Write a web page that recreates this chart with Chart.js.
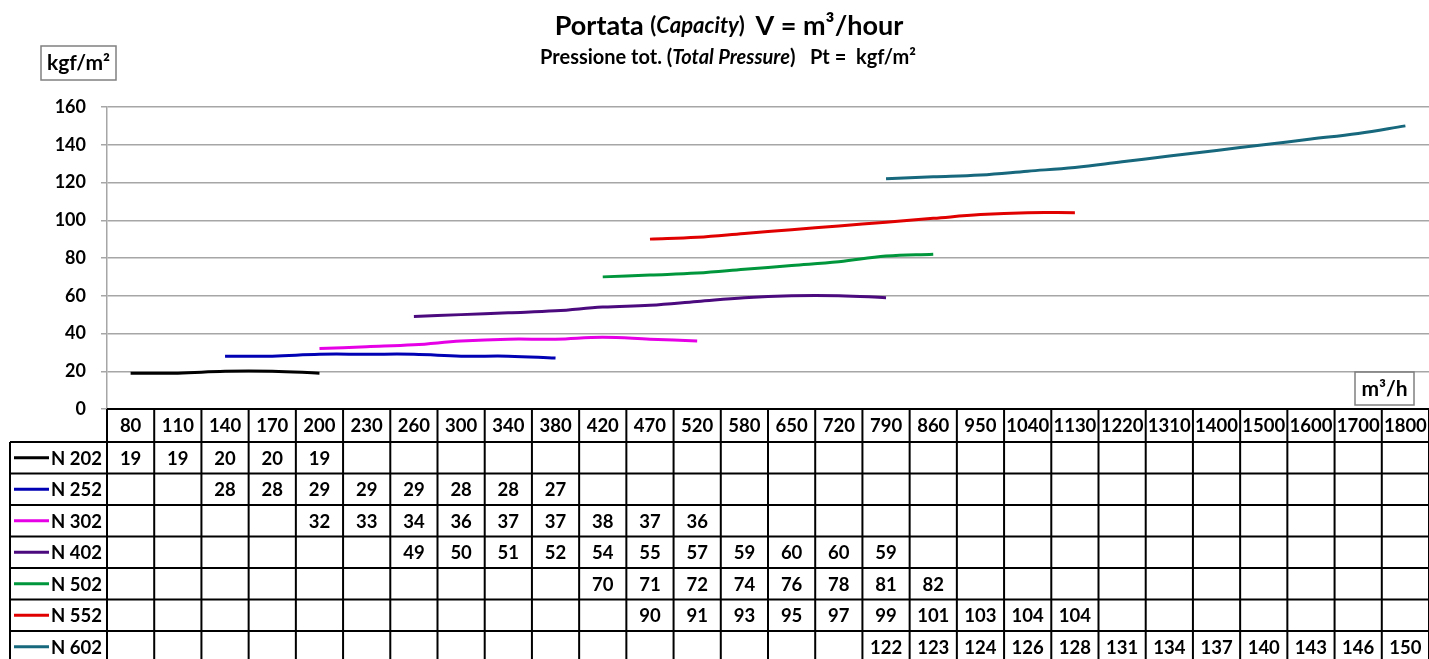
<!DOCTYPE html>
<html>
<head>
<meta charset="utf-8">
<script src="https://cdn.jsdelivr.net/npm/chart.js@4.4.0/dist/chart.umd.min.js"></script>
<style>
  html, body { margin:0; padding:0; background:#fff; }
  #wrap { width:1429px; height:659px; position:relative; }
</style>
</head>
<body>
<div id="wrap"><canvas id="chart"></canvas></div>
<script>
// dati
const _ = null;
const capacity = ['80','110','140','170','200','230','260','300','340','380','420','470','520','580','650','720','790','860','950','1040','1130','1220','1310','1400','1500','1600','1700','1800'];
const yTicks = [0,20,40,60,80,100,120,140,160];
const n202 = [19,19,20,20,19,_,_,_,_,_,_,_,_,_,_,_,_,_,_,_,_,_,_,_,_,_,_,_];
const n252 = [_,_,28,28,29,29,29,28,28,27,_,_,_,_,_,_,_,_,_,_,_,_,_,_,_,_,_,_];
const n302 = [_,_,_,_,32,33,34,36,37,37,38,37,36,_,_,_,_,_,_,_,_,_,_,_,_,_,_,_];
const n402 = [_,_,_,_,_,_,49,50,51,52,54,55,57,59,60,60,59,_,_,_,_,_,_,_,_,_,_,_];
const n502 = [_,_,_,_,_,_,_,_,_,_,70,71,72,74,76,78,81,82,_,_,_,_,_,_,_,_,_,_];
const n552 = [_,_,_,_,_,_,_,_,_,_,_,90,91,93,95,97,99,101,103,104,104,_,_,_,_,_,_,_];
const n602 = [_,_,_,_,_,_,_,_,_,_,_,_,_,_,_,_,122,123,124,126,128,131,134,137,140,143,146,150];
const seriesNames = ['N 202','N 252','N 302','N 402','N 502','N 552','N 602'];
const seriesData = [n202,n252,n302,n402,n502,n552,n602];
const seriesColors = ['#000000','#0000b4','#e600e6','#4b0a7d','#00963c','#e00000','#17687c'];

const FONT = 'Lato, "Open Sans", sans-serif';
const PLOT_TOP = 107, PLOT_BOTTOM = 409, PLOT_LEFT = 107;
const HEAD_H = 33, ROW_H = 31.5, TABLE_LEFT = 10;

function drawRuns(ctx, runs, cx, y) {
  let total = 0;
  runs.forEach(r => { ctx.font = r.f; total += ctx.measureText(r.t).width; });
  let x = cx - total / 2;
  ctx.textAlign = 'left';
  runs.forEach(r => { ctx.font = r.f; ctx.fillText(r.t, x, y); x += ctx.measureText(r.t).width; });
}

const tablePlugin = {
  id: 'tablePlugin',
  afterDraw(chart) {
    const ctx = chart.ctx;
    const xs = chart.scales.x;
    const area = chart.chartArea;
    const colW = (area.right - area.left) / capacity.length;
    ctx.save();
    ctx.fillStyle = '#000';
    ctx.textBaseline = 'middle';

    // titoli
    drawRuns(ctx, [
      {t:'Portata ', f:'bold 27px ' + FONT},
      {t:'(', f:'bold 22px ' + FONT},
      {t:'Capacity', f:'italic bold 22px ' + FONT},
      {t:')  ', f:'bold 22px ' + FONT},
      {t:'V = m³/hour', f:'bold 27px ' + FONT}
    ], 729, 26);
    drawRuns(ctx, [
      {t:'Pressione tot. (', f:'bold 20px ' + FONT},
      {t:'Total Pressure', f:'italic bold 20px ' + FONT},
      {t:')   Pt =  kgf/m²', f:'bold 20px ' + FONT}
    ], 728, 58);

    // riquadri unita
    ctx.strokeStyle = '#808080';
    ctx.lineWidth = 1.5;
    ctx.strokeRect(41, 46, 75, 34);
    ctx.strokeRect(1355, 372, 59, 33);
    ctx.font = 'bold 21px ' + FONT;
    ctx.textAlign = 'center';
    ctx.fillText('kgf/m²', 78.5, 63);
    ctx.fillText('m³/h', 1384.5, 389);

    // tabella dati
    const tTop = area.bottom;
    const rowsTop = tTop + HEAD_H;
    const tBottom = rowsTop + ROW_H * seriesNames.length;
    ctx.strokeStyle = '#000';
    ctx.lineWidth = 2;
    ctx.beginPath();
    ctx.moveTo(area.left, tTop); ctx.lineTo(area.right, tTop);
    for (let r = 0; r <= seriesNames.length; r++) {
      const y = rowsTop + r * ROW_H;
      ctx.moveTo(TABLE_LEFT, y); ctx.lineTo(area.right, y);
    }
    ctx.moveTo(TABLE_LEFT, rowsTop); ctx.lineTo(TABLE_LEFT, tBottom);
    for (let i = 0; i <= capacity.length; i++) {
      const x = area.left + i * colW;
      ctx.moveTo(x, tTop); ctx.lineTo(x, tBottom);
    }
    ctx.stroke();

    ctx.font = 'bold 18.5px ' + FONT;
    ctx.textAlign = 'center';
    capacity.forEach((c, i) => ctx.fillText(c, xs.getPixelForValue(i), tTop + HEAD_H / 2 + 1));
    seriesData.forEach((arr, r) => {
      const yc = rowsTop + r * ROW_H + ROW_H / 2 + 1;
      arr.forEach((v, i) => { if (v !== null) ctx.fillText(String(v), xs.getPixelForValue(i), yc); });
    });
    // legenda nella prima colonna
    seriesNames.forEach((n, r) => {
      const yc = rowsTop + r * ROW_H + ROW_H / 2;
      ctx.strokeStyle = seriesColors[r];
      ctx.lineWidth = 3;
      ctx.beginPath(); ctx.moveTo(14, yc); ctx.lineTo(49, yc); ctx.stroke();
      ctx.textAlign = 'left';
      ctx.fillText(n, 51, yc + 1);
    });
    ctx.restore();
  }
};

new Chart(document.getElementById('chart'), {
  type: 'line',
  data: {
    labels: capacity,
    datasets: seriesNames.map((n, k) => ({
      label: n, data: seriesData[k], borderColor: seriesColors[k], backgroundColor: seriesColors[k],
      borderWidth: 3, pointRadius: 0, tension: 0.4, spanGaps: false
    }))
  },
  options: {
    responsive: true, maintainAspectRatio: false, animation: false,
    layout: { padding: { left: 0, right: 0, top: PLOT_TOP, bottom: 659 - PLOT_BOTTOM } },
    plugins: { legend: { display: false }, title: { display: false }, tooltip: { enabled: false } },
    scales: {
      x: { type: 'category', offset: true, display: false },
      y: {
        min: 0, max: 160,
        afterFit: s => { s.width = PLOT_LEFT; },
        afterBuildTicks: s => { s.ticks = yTicks.map(v => ({ value: v })); },
        ticks: { color: '#000', padding: 15, font: { family: FONT, size: 18, weight: 'bold' } },
        grid: { color: '#a6a6a6', lineWidth: 1.5, tickLength: 6 },
        border: { color: '#a6a6a6', width: 1.5 }
      }
    }
  },
  plugins: [tablePlugin]
});
</script>
</body>
</html>
